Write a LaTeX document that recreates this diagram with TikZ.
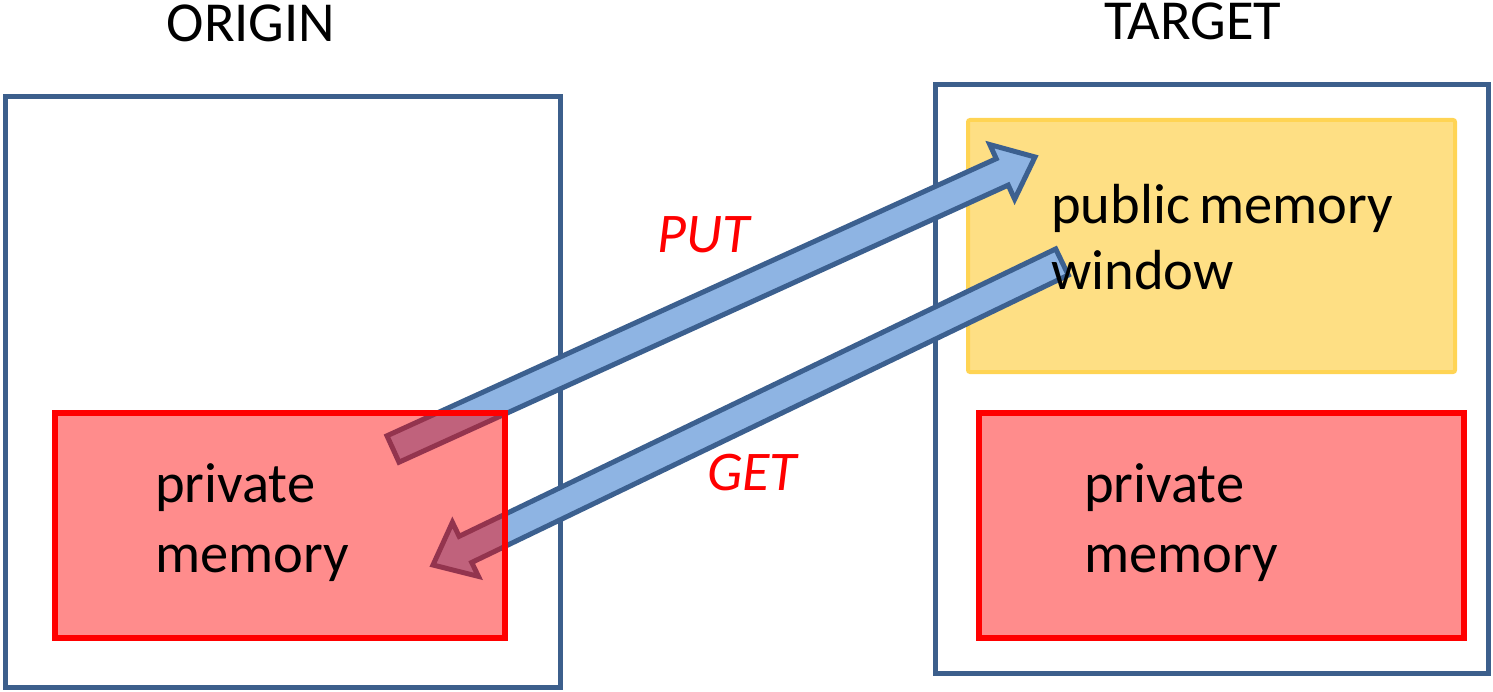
\documentclass[tikz,border=0pt]{standalone}
\usepackage{fontspec}
\setmainfont{Carlito}
\usetikzlibrary{calc}
\definecolor{frameblue}{RGB}{60,95,140}
\definecolor{arrowfill}{RGB}{142,180,227}
\definecolor{arrowline}{RGB}{60,96,143}
\definecolor{yellowfill}{RGB}{254,223,132}
\definecolor{yellowline}{RGB}{255,212,84}
\tikzset{
  frame/.style={draw=frameblue, line width=5pt, rectangle, inner sep=0pt},
  pubwin/.style={draw=yellowline, fill=yellowfill, line width=4pt, rounded corners=2pt, inner sep=0pt},
  privbox/.style={draw=red, fill=red, fill opacity=0.45, draw opacity=1, line width=5.5pt, inner sep=0pt},
  blockarrow/.style={fill=arrowfill, draw=arrowline, line width=5pt, line join=miter},
  lbl/.style={inner sep=0pt, font=\fontsize{56.5}{70}\selectfont, align=left},
  wlbl/.style={inner sep=0pt, font=\fontsize{56.5}{66}\selectfont, align=left},
  oplbl/.style={inner sep=0pt, font=\fontsize{56}{66}\selectfont\itshape, text=red},
}
\newcommand\myblockarrow[2]{%
  \coordinate (#1-base) at ($(#2)!36pt!(#1)$);
  \draw[blockarrow]
    ($(#1)!14.5pt!90:(#2)$) --
    ($(#1-base)!14.5pt!90:(#2)$) --
    ($(#1-base)!30pt!90:(#2)$) --
    (#2) --
    ($(#1-base)!30pt!-90:(#2)$) --
    ($(#1-base)!14.5pt!-90:(#2)$) --
    ($(#1)!14.5pt!-90:(#2)$) -- cycle;
}
\begin{document}
\begin{tikzpicture}[x=1pt,y=-1pt]
\useasboundingbox (0,0) rectangle (1493,692);
% frames
\node[frame, minimum width=555pt, minimum height=590pt] (origin) at (282.5,392) {};
\node[frame, minimum width=553pt, minimum height=588pt] (target) at (1211.5,379) {};
% titles
\node[lbl, anchor=base] (origintitle) at (251,42) {ORIGIN};
\node[lbl, anchor=base] (targettitle) at (1193,40) {TARGET};
% public window
\node[pubwin, minimum width=487pt, minimum height=252pt] (window) at (1211.5,246) {};
% arrows
\coordinate (puttail) at (393,449);
\coordinate (puttip) at (1035,157);
\coordinate (gettail) at (1062,262);
\coordinate (gettip) at (433,565);
\myblockarrow{puttail}{puttip}
\myblockarrow{gettail}{gettip}
% private boxes
\node[privbox, minimum width=450pt, minimum height=225pt] (privleft) at (280,525.5) {};
\node[privbox, minimum width=485pt, minimum height=225pt] (privright) at (1221.5,525.5) {};
% texts
\node[lbl, anchor=base west] (privlefttext) at (155,572) {private\\memory};
\node[lbl, anchor=base west] (privrighttext) at (1084,572) {private\\memory};
\node[wlbl, anchor=base west] (windowtext) at (1051,290) {public\,memory\\window};
\node[oplbl, anchor=base west] (put) at (657,253) {PUT};
\node[oplbl, anchor=base west] (get) at (707,490) {GET};
\end{tikzpicture}
\end{document}
